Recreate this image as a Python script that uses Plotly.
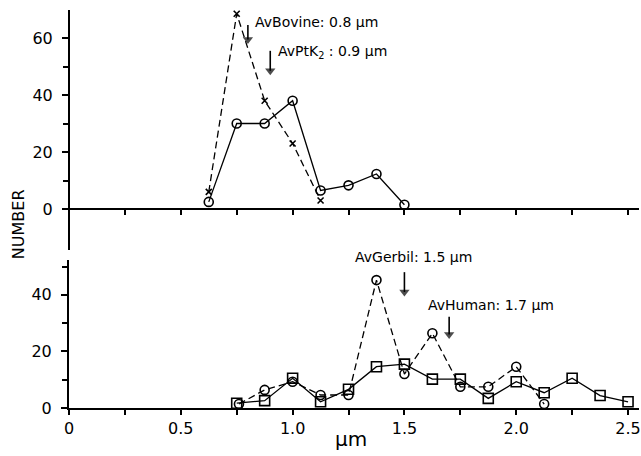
import plotly.graph_objects as go

# ---------------- data ----------------
# Top panel
top_x = [0.625, 0.75, 0.875, 1.0, 1.125, 1.25, 1.375, 1.5]
top_circle = [2.5, 30, 30, 38, 6.5, 8.3, 12.3, 1.5]
top_cross_x = [0.625, 0.75, 0.875, 1.0, 1.125]
top_cross = [6, 68.5, 38, 23, 3]

# Bottom panel
bot_sq_x = [0.75, 0.875, 1.0, 1.125, 1.25, 1.375, 1.5, 1.625, 1.75, 1.875, 2.0, 2.125, 2.25, 2.375, 2.5]
bot_sq = [1.7, 2.6, 10.5, 2.2, 6.6, 14.6, 15.5, 10.2, 10.2, 3.4, 9.3, 5.4, 10.5, 4.4, 2.2]
bot_circ_x = [0.76, 0.875, 1.0, 1.125, 1.25, 1.375, 1.5, 1.625, 1.75, 1.875, 2.0, 2.125]
bot_circ = [1.4, 6.4, 9.3, 4.6, 4.6, 45.2, 12, 26.4, 7.5, 7.5, 14.6, 1.4]

x_tickvals = [0, 0.5, 1.0, 1.5, 2.0, 2.5]
x_ticktext = ["0", "0.5", "1.0", "1.5", "2.0", "2.5"]
x_minor = [0.25, 0.75, 1.25, 1.75, 2.25]
top_yticks = [0, 20, 40, 60]
bot_yticks = [0, 20, 40]
y_minor = [10, 30, 50]

# average labels and their x values
avg_labels = ["AvBovine: 0.8 μm", "AvPtK<sub>2</sub> : 0.9 μm", "AvGerbil: 1.5 μm", "AvHuman: 1.7 μm"]
avg_values = [0.8, 0.9, 1.5, 1.7]
# arrow extents in data units (tail, head) and panel
arrow_tail = [64.6, 55.5, 48, 32.2]
arrow_head = [59.5, 48.5, 41, 26.0]
arrow_panel = ["top", "top", "bottom", "bottom"]

FONT = "DejaVu Sans"
BLACK = "black"
L, B, W, H = 69, 48, 572.0, 408.0


def paper(px, py):
    return (px - L) / W, (H - py) / H


fig = go.Figure()

fig.add_trace(go.Scatter(x=top_x, y=top_circle, xaxis="x2", yaxis="y2", mode="lines+markers",
                         line=dict(color=BLACK, width=1.3),
                         marker=dict(symbol="circle-open", size=9, color=BLACK, line=dict(width=1.6))))
fig.add_trace(go.Scatter(x=top_cross_x, y=top_cross, xaxis="x2", yaxis="y2", mode="lines+markers",
                         line=dict(color=BLACK, width=1.3, dash="7px,4px"),
                         marker=dict(symbol="x-thin-open", size=6, color=BLACK, line=dict(width=1.6, color=BLACK))))

fig.add_trace(go.Scatter(x=bot_circ_x, y=bot_circ, mode="lines+markers",
                         line=dict(color=BLACK, width=1.3, dash="7px,4px"),
                         marker=dict(symbol="circle-open", size=9, color=BLACK, line=dict(width=1.6))))
fig.add_trace(go.Scatter(x=bot_sq_x, y=bot_sq, mode="lines+markers",
                         line=dict(color=BLACK, width=1.3),
                         marker=dict(symbol="square-open", size=10, color=BLACK, line=dict(width=1.6))))

# arrows marking averages
for v, yt, yh, pn in zip(avg_values, arrow_tail, arrow_head, arrow_panel):
    xa, ya = ("x2", "y2") if pn == "top" else ("x", "y")
    fig.add_trace(go.Scatter(x=[v, v], y=[yt, yh], xaxis=xa, yaxis=ya, mode="lines+markers",
                             line=dict(color=BLACK, width=1.6),
                             marker=dict(symbol="triangle-down", size=[0, 9], color=BLACK,
                                         line=dict(width=0)),
                             hoverinfo="skip"))

tickfont = dict(family=FONT, size=16, color=BLACK)
xrange = [0, W / 224.4]

common_x = dict(domain=[0, 1], range=xrange, tickvals=x_tickvals,
                ticks="outside", ticklen=5, tickwidth=1.5, tickcolor=BLACK,
                minor=dict(tickvals=x_minor, ticks="outside", ticklen=5, tickwidth=1.5, tickcolor=BLACK),
                showline=True, linecolor=BLACK, linewidth=2, showgrid=False, zeroline=False)
common_y = dict(tickfont=tickfont, ticks="outside", ticklen=6, tickwidth=1.5, tickcolor=BLACK,
                ticklabelstandoff=6,
                minor=dict(tickvals=y_minor, ticks="outside", ticklen=5, tickwidth=1.5, tickcolor=BLACK),
                showline=True, linecolor=BLACK, linewidth=2, showgrid=False, zeroline=False)

fig.update_layout(
    width=641, height=456,
    margin=dict(l=L, r=0, t=0, b=B),
    paper_bgcolor="white", plot_bgcolor="white",
    showlegend=False,
    xaxis=dict(anchor="y", ticktext=x_ticktext, tickfont=tickfont, ticklabeloverflow="allow", **common_x),
    yaxis=dict(domain=[0, (H - 260) / H], range=[0, 148 / 2.83], anchor="x",
               tickvals=bot_yticks, **common_y),
    xaxis2=dict(anchor="free", position=(H - 209) / H, showticklabels=False, **common_x),
    yaxis2=dict(domain=[(H - 250) / H, (H - 10) / H], range=[-41 / 2.85, 199 / 2.85], anchor="free",
                position=0, tickvals=top_yticks, **common_y),
)

annfont = dict(family=FONT, size=14, color=BLACK)
# label pixel positions (left x, center y)
label_px = [(254, 22), (277, 52), (354, 257), (427, 305)]
for lab, (px, py) in zip(avg_labels, label_px):
    ax_, ay_ = paper(px, py)
    fig.add_annotation(x=ax_, y=ay_, xref="paper", yref="paper", text=lab, showarrow=False,
                       xanchor="left", yanchor="middle", font=annfont)

# axis titles
nx, ny = paper(18, 224)
fig.add_annotation(x=nx, y=ny, xref="paper", yref="paper", text="NUMBER", textangle=-90, showarrow=False,
                   xanchor="center", yanchor="middle", font=dict(family=FONT, size=16, color=BLACK))
mx, my = paper(352, 439)
fig.add_annotation(x=mx, y=my, xref="paper", yref="paper", text="μm", showarrow=False,
                   xanchor="center", yanchor="middle", font=dict(family=FONT, size=20, color=BLACK))

fig.write_html("out.html", config={"displayModeBar": False},
               post_script="document.body.style.margin='0';document.body.style.padding='0';")
